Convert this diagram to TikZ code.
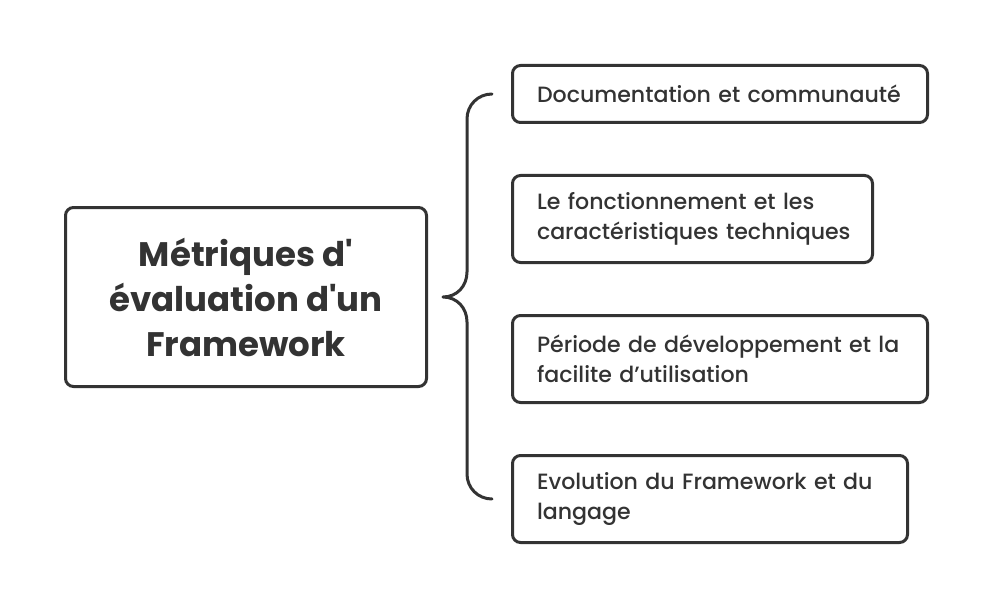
\documentclass[tikz,border=0pt]{standalone}
\usepackage{fontspec}
\setmainfont{Poppins}[Ligatures=TeXOff]
\newfontfamily\medfont{Poppins Medium}[Ligatures=TeXOff]
\usetikzlibrary{calc}
\definecolor{ink}{HTML}{333333}
\hbadness=10000 \hfuzz=200pt
\tikzset{
  every node/.style={text=ink},
  itembox/.style={draw=ink, line width=3pt, rounded corners=8pt, inner xsep=0pt, inner ysep=0pt,
     align=left, font=\medfont\fontsize{22.1}{30}\selectfont},
  mainbox/.style={draw=ink, line width=3pt, rounded corners=8pt, inner sep=0pt, align=center,
     font=\fontsize{34}{45}\selectfont\bfseries},
  bracepath/.style={draw=ink, line width=3pt, line cap=round, line join=round}
}
\begin{document}
\begin{tikzpicture}[x=1pt,y=-1pt]
\useasboundingbox (0,0) rectangle (991,607);
\node[mainbox, minimum width=361pt, minimum height=179pt] (main) at (246,297)
  {Métriques d'\\évaluation d'un\\Framework};
\node[itembox, minimum width=415pt, minimum height=57pt, text width=366pt] (b1) at (720,94)
  {\mbox{Documentation et communauté}};
\node[itembox, minimum width=360pt, minimum height=87pt, text width=311pt] (b2) at (692.5,219)
  {\mbox{Le fonctionnement et les}\\\mbox{caractéristiques techniques}};
\node[itembox, minimum width=415pt, minimum height=87pt, text width=366pt] (b3) at (720,359)
  {\mbox{Période de développement et la}\\\mbox{facilite d’utilisation}};
\node[itembox, minimum width=395pt, minimum height=87pt, text width=346pt] (b4) at (710,499)
  {\mbox{Evolution du Framework et du}\\\mbox{langage}};
\coordinate (bt) at ($(b1.west)+(-19,0)$);
\coordinate (tip) at ($(main.east)+(15,0)$);
\coordinate (bb) at ($(b4.west)+(-19,0)$);
\draw[bracepath] (bt) .. controls +(-14,0) and +(0,-14) .. ($(bt)+(-25,25)$)
  -- ($(tip)+(24,-25)$) .. controls +(0,14) and +(14,0) .. (tip)
  .. controls +(14,0) and +(0,-14) .. ($(tip)+(24,25)$)
  -- ($(bb)+(-25,-25)$) .. controls +(0,14) and +(-14,0) .. (bb);
\end{tikzpicture}
\end{document}
